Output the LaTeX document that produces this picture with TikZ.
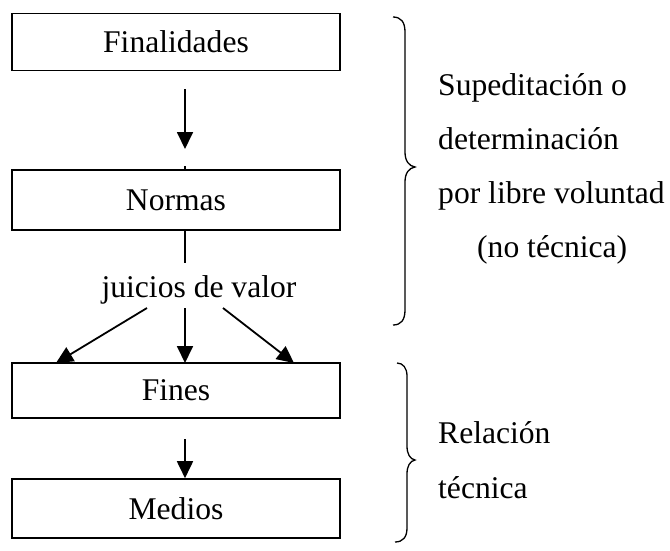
\documentclass[tikz,border=0pt]{standalone}
\usepackage{fontspec}
\setmainfont{Liberation Serif}
\usetikzlibrary{arrows.meta}
\begin{document}
\begin{tikzpicture}[x=1pt,y=-1pt,
  txt/.style={font=\fontsize{31.6}{38}\selectfont,inner sep=0pt},
  box/.style={txt,draw,line width=1.6pt,minimum width=328pt},
  arr/.style={line width=1.8pt,-{Triangle[width=16pt,length=17pt]}},
  ln/.style={line width=1.8pt},
  brace/.style={line width=1.3pt}]
\useasboundingbox (0,0) rectangle (670,550);
% boxes
\node[box,minimum height=57pt] (fin) at (176,42) {Finalidades};
\node[box,minimum height=60pt] (nor) at (176,200) {Normas};
\node[box,minimum height=55pt] (fns) at (176,390.5) {Fines};
\node[box,minimum height=59pt] (med) at (176,508.5) {Medios};
\node[txt,anchor=base] (jui) at (199,297) {juicios de valor};
% arrows
\coordinate (a1s) at (185,89);
\coordinate (a1e) at (185,149);
\draw[arr] (a1s) -- (a1e);
\coordinate (tick) at (185,166);
\draw[line width=1.2pt] (tick) -- (tick |- nor.north);
\coordinate (j0) at (185,263);
\draw[ln] (nor.south -| j0) -- (j0);
\coordinate (jl) at (147,308);
\coordinate (jc) at (185,308);
\coordinate (jr) at (223,308);
\coordinate (fl) at (56,363);
\coordinate (fc) at (185,363);
\coordinate (fr) at (294,363);
\draw[arr] (jl) -- (fl);
\draw[arr] (jc) -- (fc);
\draw[arr] (jr) -- (fr);
\coordinate (a2s) at (185,439);
\draw[arr] (a2s) -- (a2s |- med.north);
% braces
\draw[brace] (393,17) .. controls (401,17) and (405,22) .. (405,32) -- (405,152)
  .. controls (405,161) and (409,166) .. (415,167)
  .. controls (409,168) and (405,173) .. (405,182) -- (405,310)
  .. controls (405,320) and (401,325) .. (393,325);
\draw[brace] (397,363) .. controls (403,363) and (407,368) .. (407,376) -- (407,446)
  .. controls (407,454) and (410,459) .. (415,460)
  .. controls (410,461) and (407,466) .. (407,474) -- (407,528)
  .. controls (407,537) and (403,542) .. (395,542);
% right texts
\node[txt,anchor=base west] (s1) at (438,95) {Supeditación o};
\node[txt,anchor=base west] (s2) at (438,149) {determinación};
\node[txt,anchor=base west] (s3) at (438,203) {por libre voluntad};
\node[txt,anchor=base west] (s4) at (477,257) {(no técnica)};
\node[txt,anchor=base west] (r1) at (438,443) {Relación};
\node[txt,anchor=base west] (r2) at (438,498) {técnica};
\end{tikzpicture}
\end{document}
